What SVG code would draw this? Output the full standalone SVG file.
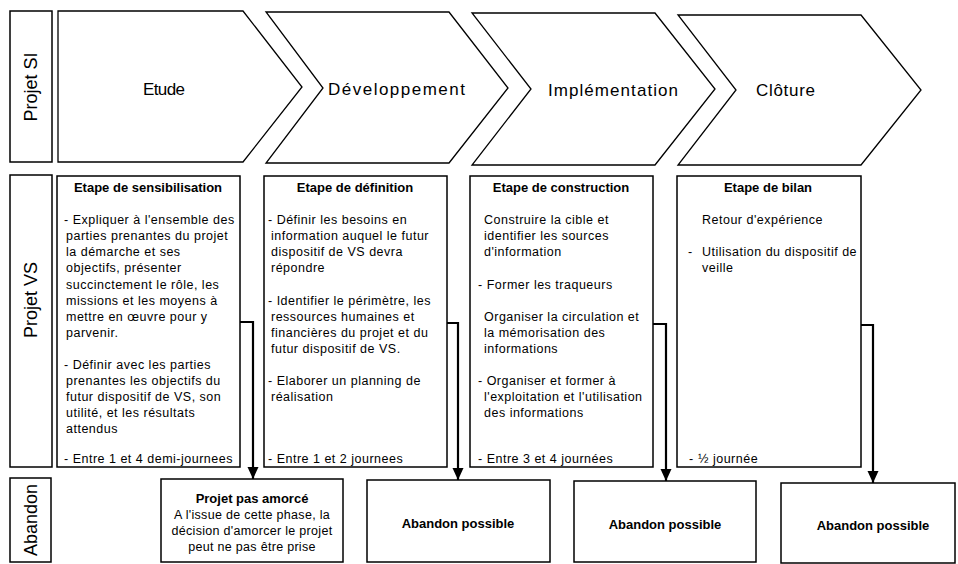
<svg xmlns="http://www.w3.org/2000/svg" width="958" height="564" viewBox="0 0 958 564">
<style>
.bx{fill:#fff;stroke:#000;stroke-width:1.5}
.ch{fill:#fff;stroke:#000;stroke-width:1.3}
.lab{font-family:"Liberation Sans",Arial,sans-serif;font-size:18px;fill:#000}
.big{font-family:"Liberation Sans",Arial,sans-serif;font-size:17px;fill:#000}
.hd{font-family:"Liberation Sans",Arial,sans-serif;font-size:13px;font-weight:bold;fill:#000;text-anchor:middle}
.tx{font-family:"Liberation Sans",Arial,sans-serif;font-size:12.5px;letter-spacing:0.5px;fill:#000}
.txc{font-family:"Liberation Sans",Arial,sans-serif;font-size:12.5px;letter-spacing:0.3px;fill:#000;text-anchor:middle}
.cn{fill:none;stroke:#000;stroke-width:2.2}
</style>
<defs>
<marker id="ah" markerUnits="userSpaceOnUse" markerWidth="13" markerHeight="12" refX="12" refY="5.5" orient="auto" viewBox="0 0 13 12">
<path d="M0,0 L12,5.5 L0,11 Z" fill="#000"/>
</marker>
</defs>
<rect width="958" height="564" fill="#fff"/>

<!-- Row labels -->
<g id="lbl-si">
<rect class="bx" x="10" y="11" width="42" height="151"/>
<text class="lab" transform="translate(31,87) rotate(-90)" text-anchor="middle" dy="6">Projet SI</text>
</g>
<g id="lbl-vs">
<rect class="bx" x="10" y="175" width="42" height="292"/>
<text class="lab" transform="translate(31,300) rotate(-90)" text-anchor="middle" dy="6">Projet VS</text>
</g>
<g id="lbl-ab">
<rect class="bx" x="10" y="478" width="41" height="84"/>
<text class="lab" transform="translate(31,520) rotate(-90)" text-anchor="middle" dy="6">Abandon</text>
</g>

<!-- Chevrons -->
<g id="etude">
<polygon class="ch" points="58,11 243,11 302,87 243,162 58,162"/>
<text class="big" x="143" y="95" textLength="42">Etude</text>
</g>
<g id="developpement">
<polygon class="ch" points="266,12 449,12 508,88 449,163 266,163 323,88"/>
<text class="big" x="328" y="95" textLength="137">Développement</text>
</g>
<g id="implementation">
<polygon class="ch" points="472,13 655,13 715,89 655,165 472,165 531,89"/>
<text class="big" x="548" y="96" textLength="130">Implémentation</text>
</g>
<g id="cloture">
<polygon class="ch" points="678,15 861,15 921,90 861,165 678,165 736,90"/>
<text class="big" x="756" y="96" textLength="59">Clôture</text>
</g>

<!-- Stage boxes -->
<g id="sensibilisation">
<rect class="bx" x="57" y="176" width="183" height="291"/>
<text class="hd" x="148" y="192">Etape de sensibilisation</text>
<text class="tx" x="64" y="224">- Expliquer à l'ensemble des</text>
<text class="tx" x="66" y="240">parties prenantes du projet</text>
<text class="tx" x="66" y="256">la démarche et ses</text>
<text class="tx" x="66" y="272">objectifs, présenter</text>
<text class="tx" x="66" y="289">succinctement le rôle, les</text>
<text class="tx" x="66" y="305">missions et les moyens à</text>
<text class="tx" x="66" y="321">mettre en œuvre pour  y</text>
<text class="tx" x="66" y="337">parvenir.</text>
<text class="tx" x="64" y="369">- Définir avec les parties</text>
<text class="tx" x="66" y="385">prenantes les objectifs du</text>
<text class="tx" x="66" y="401">futur dispositif de VS,  son</text>
<text class="tx" x="66" y="417">utilité, et les résultats</text>
<text class="tx" x="66" y="433">attendus</text>
<text class="tx" x="64" y="463">- Entre 1 et 4 demi-journees</text>
</g>
<g id="definition">
<rect class="bx" x="264" y="176" width="183" height="291"/>
<text class="hd" x="355" y="192">Etape de définition</text>
<text class="tx" x="268" y="224">- Définir les besoins en</text>
<text class="tx" x="271" y="240">information auquel le futur</text>
<text class="tx" x="271" y="256">dispositif de VS devra</text>
<text class="tx" x="271" y="272">répondre</text>
<text class="tx" x="268" y="305">- Identifier le périmètre, les</text>
<text class="tx" x="271" y="321">ressources humaines et</text>
<text class="tx" x="271" y="337">financières du projet et du</text>
<text class="tx" x="271" y="353">futur dispositif de VS.</text>
<text class="tx" x="268" y="385">-  Elaborer un planning de</text>
<text class="tx" x="271" y="401">réalisation</text>
<text class="tx" x="268" y="463">- Entre 1 et 2 journees</text>
</g>
<g id="construction">
<rect class="bx" x="470" y="176" width="183" height="291"/>
<text class="hd" x="561" y="192">Etape de construction</text>
<text class="tx" x="484" y="224">Construire la cible et</text>
<text class="tx" x="484" y="240">identifier les sources</text>
<text class="tx" x="484" y="256">d'information</text>
<text class="tx" x="478" y="289">- Former les traqueurs</text>
<text class="tx" x="484" y="321">Organiser la circulation et</text>
<text class="tx" x="484" y="337">la mémorisation des</text>
<text class="tx" x="484" y="353">informations</text>
<text class="tx" x="478" y="385">- Organiser et former à</text>
<text class="tx" x="484" y="401">l'exploitation et l'utilisation</text>
<text class="tx" x="484" y="417">des informations</text>
<text class="tx" x="478" y="463">- Entre 3 et 4 journées</text>
</g>
<g id="bilan">
<rect class="bx" x="677" y="176" width="184" height="291"/>
<text class="hd" x="768" y="192">Etape de bilan</text>
<text class="tx" x="702" y="224">Retour d'expérience</text>
<text class="tx" y="256"><tspan x="688">-</tspan><tspan x="702">Utilisation du dispositif de</tspan></text>
<text class="tx" x="702" y="272">veille</text>
<text class="tx" y="463"><tspan x="689">-</tspan><tspan x="698">½ journée</tspan></text>
</g>

<!-- Abandon boxes -->
<g id="pas-amorce">
<rect class="bx" x="161" y="479" width="182" height="83"/>
<text class="hd" x="252" y="503">Projet pas amorcé</text>
<text class="txc" x="252" y="519">A l'issue de cette phase, la</text>
<text class="txc" x="252" y="535">décision d'amorcer le projet</text>
<text class="txc" x="252" y="551">peut ne pas être prise</text>
</g>
<g id="abandon-2">
<rect class="bx" x="367" y="480" width="183" height="82"/>
<text class="hd" x="458" y="528">Abandon possible</text>
</g>
<g id="abandon-3">
<rect class="bx" x="574" y="481" width="182" height="81"/>
<text class="hd" x="665" y="529">Abandon possible</text>
</g>
<g id="abandon-4">
<rect class="bx" x="781" y="483" width="174" height="80"/>
<text class="hd" x="873" y="530">Abandon possible</text>
</g>

<!-- Connectors -->
<g id="connectors">
<polyline class="cn" points="240,322 253,322 253,479" marker-end="url(#ah)"/>
<polyline class="cn" points="447,323 458,323 458,480" marker-end="url(#ah)"/>
<polyline class="cn" points="653,324 666,324 666,481" marker-end="url(#ah)"/>
<polyline class="cn" points="861,325 873,325 873,483" marker-end="url(#ah)"/>
</g>
</svg>
